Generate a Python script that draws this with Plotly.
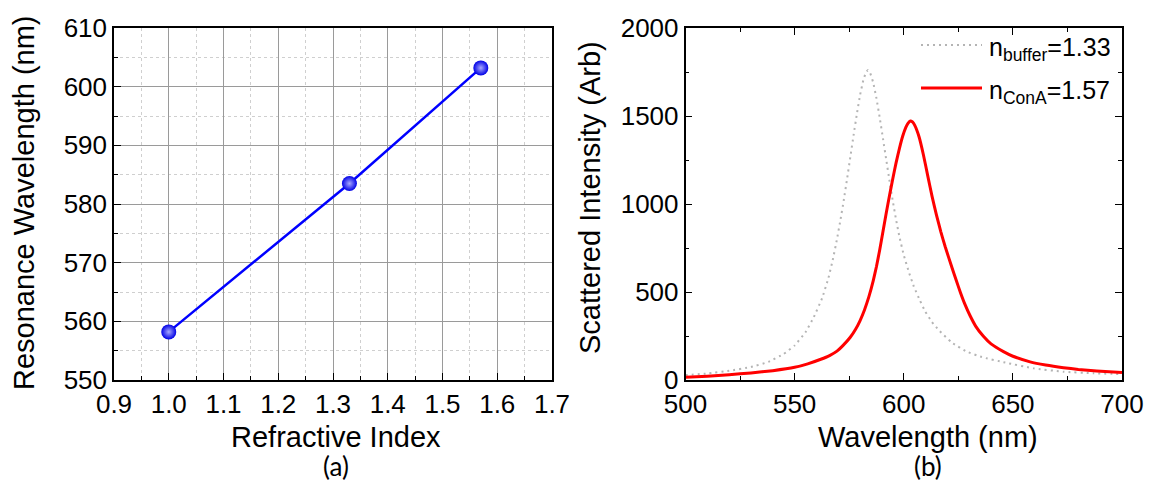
import plotly.graph_objects as go

# ---- Panel (a): resonance wavelength vs refractive index ----
ri = [1.00, 1.33, 1.57]
res_wl = [558.2, 583.5, 603.2]

# ---- Panel (b): scattering spectra ----
wl_buffer = [500, 510, 520, 530, 538, 545, 550, 554.9, 558.7, 562.6, 565.5, 567.6,
             569.4, 571.0, 572.5, 574.0, 575.5, 577.0, 578.5, 580.0, 581.5, 582.7, 583.6,
             584.6, 586.0, 587.5, 589.0, 590.5, 592.0, 593.5, 595.0, 596.5, 598.0, 600.0,
             602.3, 604.6, 607.3, 609.8, 612.9, 616.0, 622.1, 628.9, 635.8, 646.5, 659.5, 673.2,
             687.0, 700]
int_buffer = [28, 37, 52, 74, 103, 148, 196, 270, 355, 465, 580, 690,
              800, 910, 1020, 1140, 1265, 1390, 1510, 1620, 1705, 1748, 1761,
              1745, 1690, 1600, 1490, 1370, 1250, 1130, 1015, 910, 815, 710,
              615, 532, 455, 390, 330, 284, 212, 161, 130, 99, 66, 47,
              38, 34]

wl_cona = [500, 510, 520, 530, 540, 550, 556, 562, 566, 569.4, 572, 575.5, 578, 580, 582,
           584, 586, 587.5, 589, 590.5, 592, 593.5, 595, 596.5, 598, 599.5, 601, 602, 603,
           604, 605, 607, 609, 611, 613, 615, 617, 619, 622, 624, 626, 628, 630.4, 633,
           636.5, 640, 645.7, 650, 657.9, 665, 673.2, 680, 688.4, 700]
int_cona = [15, 22, 30, 40, 53, 72, 92, 118, 139, 164, 194, 243, 290, 338, 398,
            472, 563, 645, 740, 845, 950, 1050, 1145, 1235, 1315, 1385, 1437, 1460, 1472,
            1466, 1448, 1382, 1280, 1160, 1042, 937, 842, 757, 642, 568, 496, 431, 365, 305,
            248, 205, 161, 135, 103, 85, 70, 60, 51, 42]

x_ticks_a = [0.9, 1.0, 1.1, 1.2, 1.3, 1.4, 1.5, 1.6, 1.7]
y_ticks_a = [550, 560, 570, 580, 590, 600, 610]
x_ticks_b = [500, 550, 600, 650, 700]
y_ticks_b = [0, 500, 1000, 1500, 2000]

W, H = 1151, 483
FONT = "Liberation Sans, Arial, sans-serif"

def fx(px):
    return px / W

def fy(py):
    return 1 - py / H

fig = go.Figure()

fig.add_trace(go.Scatter(
    x=ri, y=res_wl, mode="lines+markers", xaxis="x", yaxis="y",
    line=dict(color="#0000ff", width=2.5),
    marker=dict(size=15, color="#0000e6",
                gradient=dict(type="radial", color="#a8a8ff")),
    showlegend=False,
))

buf_name = "n<sub>buffer</sub>=1.33"
cona_name = "n<sub>ConA</sub>=1.57"
buf_line = dict(color="#b4b4b4", width=2, dash="2px,4px")
cona_line = dict(color="#ff0000", width=3)

fig.add_trace(go.Scatter(
    x=wl_buffer, y=int_buffer, mode="lines", xaxis="x2", yaxis="y2",
    line=dict(**buf_line, shape="spline", smoothing=0.3), name=buf_name, showlegend=False,
))
fig.add_trace(go.Scatter(
    x=wl_cona, y=int_cona, mode="lines", xaxis="x2", yaxis="y2",
    line=dict(**cona_line, shape="spline", smoothing=0.4), name=cona_name, showlegend=False,
))

tickfont = dict(family=FONT, size=26, color="black")

common = dict(
    showline=True, linecolor="black", linewidth=1.5, zeroline=False,
    ticks="inside", ticklen=7, tickwidth=1, tickcolor="black",
    tickfont=tickfont, automargin=False,
)

fig.update_layout(
    width=W, height=H,
    margin=dict(l=0, r=0, t=0, b=0, autoexpand=False),
    paper_bgcolor="white", plot_bgcolor="white",
    font=dict(family=FONT, color="black"),
    showlegend=False,
    xaxis=dict(
        domain=[fx(114), fx(552)], anchor="y", range=[0.9, 1.7],
        tickvals=x_ticks_a, ticktext=[f"{v:.1f}" for v in x_ticks_a],
        showgrid=True, gridcolor="#9a9a9a", gridwidth=1, mirror=True,
        minor=dict(dtick=0.05, tick0=0.9, showgrid=True, gridcolor="#cfcfcf",
                   griddash="dot", ticks="inside", ticklen=4, tickcolor="black"),
        **common,
    ),
    yaxis=dict(
        domain=[fy(380), fy(28)], anchor="x", range=[550, 610],
        tickvals=y_ticks_a,
        showgrid=True, gridcolor="#9a9a9a", gridwidth=1, mirror=True,
        minor=dict(dtick=5, tick0=550, showgrid=True, gridcolor="#cfcfcf",
                   griddash="dot", ticks="inside", ticklen=4, tickcolor="black"),
        **common,
    ),
    xaxis2=dict(
        domain=[fx(685.5), fx(1122)], anchor="y2", range=[500, 700],
        tickvals=x_ticks_b, showgrid=False, mirror="allticks",
        minor=dict(dtick=25, tick0=500, ticks="inside", ticklen=4, tickcolor="black"),
        **common,
    ),
    yaxis2=dict(
        domain=[fy(380), fy(28)], anchor="x2", range=[0, 2000],
        tickvals=y_ticks_b, showgrid=False, mirror="allticks",
        minor=dict(dtick=250, tick0=0, ticks="inside", ticklen=4, tickcolor="black"),
        **common,
    ),
)

# legend (drawn as key samples + labels)
for py, ln, txt in [(45, buf_line, buf_name), (88, cona_line, cona_name)]:
    fig.add_shape(type="line", xref="paper", yref="paper",
                  x0=fx(921), x1=fx(982), y0=fy(py), y1=fy(py), line=ln)
    fig.add_annotation(text=txt, xref="paper", yref="paper", x=fx(987), y=fy(py + 4),
                       xanchor="left", yanchor="middle", showarrow=False,
                       font=dict(family=FONT, size=25, color="black"))

ann_font = dict(family=FONT, size=29, color="black")
annotations = [
    dict(text="Resonance Wavelength (nm)", x=fx(24), y=fy(203), textangle=-90),
    dict(text="Scattered Intensity (Arb)", x=fx(590), y=fy(198), textangle=-90),
    dict(text="Refractive Index", x=fx(336), y=fy(437)),
    dict(text="Wavelength (nm)", x=fx(928), y=fy(437)),
]
for a in annotations:
    fig.add_annotation(xref="paper", yref="paper", showarrow=False,
                       xanchor="center", yanchor="middle", font=ann_font, **a)
for lab, cx in [("(a)", 336), ("(b)", 928)]:
    fig.add_annotation(text=lab, xref="paper", yref="paper", x=fx(cx), y=fy(466),
                       showarrow=False, xanchor="center", yanchor="middle",
                       font=dict(family="Lato, Liberation Sans, sans-serif", size=26, color="black"))

fig.write_html("out.html", config={"displayModeBar": False},
               post_script="document.body.style.margin='0';document.body.style.overflow='hidden';")
